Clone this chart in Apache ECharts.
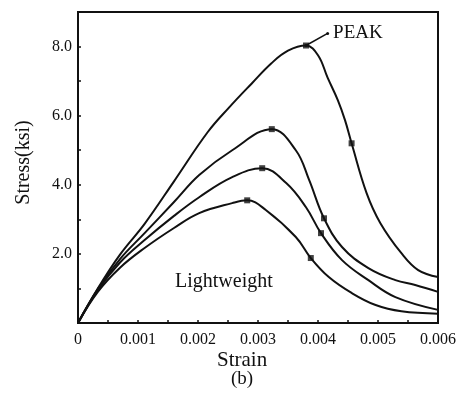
<!DOCTYPE html>
<html>
<head>
<meta charset="utf-8">
<script src="https://cdn.jsdelivr.net/npm/echarts@6/dist/echarts.min.js"></script>
<style>
  html, body { margin: 0; padding: 0; background: #fff; }
  #chart { width: 459px; height: 396px; }
</style>
</head>
<body>
<div id="chart"></div>
<script>
// strain / stress, one pair of arrays per curve
const strain1 = [0, 0.00033, 0.0007, 0.00111, 0.0016, 0.00216, 0.00252, 0.0029, 0.00322, 0.0035, 0.0038, 0.004, 0.00416, 0.00433, 0.00445, 0.00456, 0.00481, 0.00504, 0.00539, 0.00567, 0.006];
const stress1 = [0, 1.0, 1.98, 2.87, 4.1, 5.52, 6.24, 6.94, 7.51, 7.88, 8.03, 7.75, 7.1, 6.45, 5.87, 5.2, 3.76, 2.89, 2.02, 1.53, 1.33];

const strain2 = [0, 0.00033, 0.0007, 0.00111, 0.0016, 0.00202, 0.00257, 0.00323, 0.00363, 0.00385, 0.0041, 0.0044, 0.00484, 0.00529, 0.00562, 0.006];
const stress2 = [0, 0.98, 1.85, 2.6, 3.5, 4.28, 5.0, 5.61, 5.0, 4.15, 3.03, 2.2, 1.59, 1.24, 1.1, 0.9];

const strain3 = [0, 0.00033, 0.0007, 0.00111, 0.0016, 0.00202, 0.00257, 0.00307, 0.00347, 0.0038, 0.00405, 0.0044, 0.00484, 0.00529, 0.006];
const stress3 = [0, 0.95, 1.75, 2.4, 3.1, 3.64, 4.22, 4.48, 4.05, 3.35, 2.6, 1.82, 1.24, 0.75, 0.38];

const strain4 = [0, 0.00033, 0.0007, 0.00111, 0.0016, 0.00202, 0.00257, 0.00282, 0.00313, 0.00363, 0.00388, 0.00418, 0.00456, 0.00496, 0.00539, 0.006];
const stress4 = [0, 0.9, 1.6, 2.17, 2.75, 3.18, 3.47, 3.55, 3.27, 2.49, 1.88, 1.33, 0.87, 0.52, 0.34, 0.27];

// square markers (peak + post-peak point of each curve)
const markStrain = [0.0038, 0.00456, 0.00323, 0.0041, 0.00307, 0.00405, 0.00282, 0.00388];
const markStress = [8.03, 5.2, 5.61, 3.03, 4.48, 2.6, 3.55, 1.88];

// leader from the top peak to the PEAK label
const leaderStrain = [0.0038, 0.00416];
const leaderStress = [8.03, 8.38];

const xTickLabels = ['0', '0.001', '0.002', '0.003', '0.004', '0.005', '0.006'];
const yTickLabels = {2: '2.0', 4: '4.0', 6: '6.0', 8: '8.0'};

const FONT = 'Liberation Serif';
const pairs = (xs, ys) => xs.map((x, i) => [x, ys[i]]);

const curve = (xs, ys) => ({
    type: 'line',
    data: pairs(xs, ys),
    smooth: 0.4,
    showSymbol: false,
    lineStyle: {color: '#111', width: 2},
    z: 3
});

const chart = echarts.init(document.getElementById('chart'));

chart.setOption({
    backgroundColor: '#fff',
    animation: false,
    grid: {
        left: 78, right: 19, top: 12, bottom: 73,
        show: true, borderColor: '#111', borderWidth: 2
    },
    xAxis: {
        type: 'value',
        min: 0, max: 0.006, interval: 0.0005,
        axisLine: {lineStyle: {color: '#111', width: 2}},
        axisTick: {inside: true, length: 3, lineStyle: {color: '#111', width: 1.5}},
        splitLine: {show: false},
        axisLabel: {
            color: '#111', fontFamily: FONT, fontSize: 16, margin: 9,
            showMinLabel: true, showMaxLabel: true,
            formatter: v => {
                const k = Math.round(v * 10000);
                return k % 10 === 0 ? xTickLabels[k / 10] : '';
            }
        }
    },
    yAxis: {
        type: 'value',
        min: 0, max: 9, interval: 1,
        axisLine: {lineStyle: {color: '#111', width: 2}},
        axisTick: {inside: true, length: 3, lineStyle: {color: '#111', width: 1.5}},
        splitLine: {show: false},
        axisLabel: {
            color: '#111', fontFamily: FONT, fontSize: 16, margin: 6,
            formatter: v => yTickLabels[v] || ''
        },
        name: 'Stress(ksi)',
        nameLocation: 'middle',
        nameRotate: 90,
        nameGap: 44,
        nameTextStyle: {color: '#111', fontFamily: FONT, fontSize: 20, padding: [0, 0, 0, 10]}
    },
    graphic: [
        {type: 'text', left: 217, top: 350, style: {text: 'Strain', fill: '#111', font: '21px "Liberation Serif"'}},
        {type: 'text', left: 231, top: 370, style: {text: '(b)', fill: '#111', font: '19px "Liberation Serif"'}},
        {type: 'text', left: 175, top: 272, style: {text: 'Lightweight', fill: '#111', font: '20px "Liberation Serif"'}}
    ],
    series: [
        curve(strain1, stress1),
        curve(strain2, stress2),
        curve(strain3, stress3),
        curve(strain4, stress4),
        {
            type: 'scatter',
            data: pairs(markStrain, markStress),
            symbol: 'rect',
            symbolSize: 6,
            itemStyle: {color: '#111'},
            z: 4
        },
        {
            type: 'line',
            data: pairs(leaderStrain, leaderStress),
            symbol: 'circle',
            symbolSize: 3,
            showSymbol: true,
            lineStyle: {color: '#111', width: 1.5},
            itemStyle: {color: '#111'},
            label: {
                show: true,
                position: 'right',
                distance: 4,
                formatter: p => p.dataIndex === 1 ? 'PEAK' : '',
                color: '#111',
                fontFamily: FONT,
                fontSize: 19
            },
            z: 4
        }
    ]
});
</script>
</body>
</html>
